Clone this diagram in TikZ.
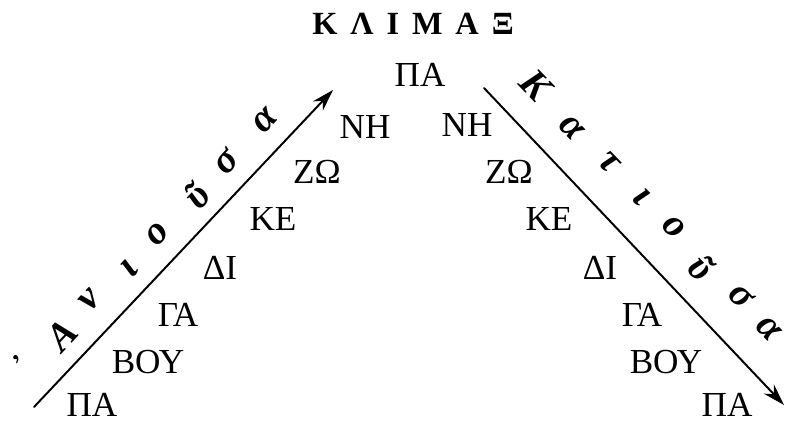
\documentclass[tikz,border=0pt]{standalone}
\usepackage{fontspec}
\setmainfont{Liberation Serif}
\usepackage{tikz}
\usetikzlibrary{arrows.meta}

\begin{document}
\begin{tikzpicture}[x=0.025cm,y=0.025cm,line cap=round,line join=round,
  note/.style={inner sep=0pt,font=\fontsize{25}{28}\selectfont},
  lttr/.style={inner sep=0pt,anchor=base,font=\fontsize{28}{30}\selectfont\bfseries\itshape},
  scalearrow/.style={line width=1.4pt,-{Stealth[length=0.55cm,width=0.34cm]}}]
  \useasboundingbox (0,0) rectangle (786,425);

  % Title
  \node[inner sep=0pt,font=\fontsize{23}{28}\selectfont\bfseries] (title) at (413,401)
    {Κ\hspace{0.4em}Λ\hspace{0.4em}Ι\hspace{0.4em}Μ\hspace{0.4em}Α\hspace{0.4em}Ξ};

  % Top of the scale
  \node[note] (top) at (420,350) {ΠΑ};

  % Ascending notes (left side)
  \foreach \x/\y/\t [count=\i] in {92/20/ΠΑ,148/63/ΒΟΥ,178/110/ΓΑ,220/157/ΔΙ,273/206/ΚΕ,317/253/ΖΩ,365/298/ΝΗ}
    \node[note] (asc\i) at (\x,\y) {\t};

  % Descending notes (right side)
  \foreach \x/\y/\t [count=\i] in {467/300/ΝΗ,509/253/ΖΩ,549/206/ΚΕ,600/157/ΔΙ,642/110/ΓΑ,666/63/ΒΟΥ,727/20/ΠΑ}
    \node[note] (desc\i) at (\x,\y) {\t};

  % Arrows
  \coordinate (upfrom) at (34,18);
  \coordinate (upto) at (333,335);
  \coordinate (downfrom) at (484,337);
  \coordinate (downto) at (784,20);
  \draw[scalearrow] (upfrom) -- (upto);
  \draw[scalearrow] (downfrom) -- (downto);

  % Spaced-out words along the arrows
  \foreach \x/\y/\ch [count=\i] in {33/48/᾿,71/81/Α,96/119/ν,136/150/ι,164/185/ο,206/221/ῦ,234/256/σ,272/298/α}
    \node[lttr,rotate=47] (up\i) at (\x,\y) {\ch};
  \foreach \x/\y/\ch [count=\i] in {527/331/Κ,565/291/α,603/256/τ,635/222/ι,667/191/ο,692/149/ῦ,734/122/σ,762/90/α}
    \node[lttr,rotate=-46] (down\i) at (\x,\y) {\ch};
\end{tikzpicture}
\end{document}
